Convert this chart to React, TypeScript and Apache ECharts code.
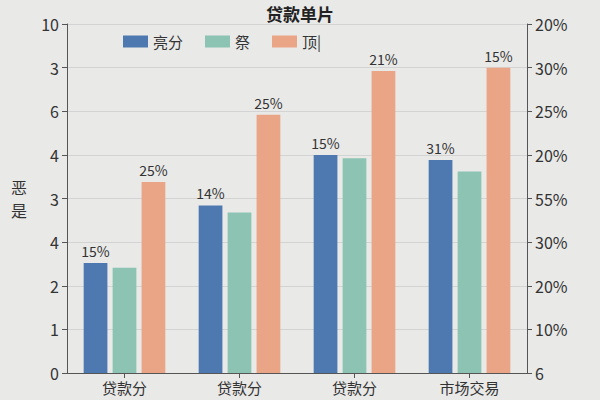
import { useEffect, useRef } from 'react'
import * as echarts from 'echarts'

const categories = ['贷款分', '贷款分', '贷款分', '市场交易']
const seriesNames = ['亮分', '祭', '顶|']
// bar heights measured in tick steps of the left axis
const blueValues = [2.52, 3.84, 5.0, 4.88]
const greenValues = [2.41, 3.68, 4.92, 4.62]
const orangeValues = [4.38, 5.92, 6.92, 7.0]
const blueLabels = ['15%', '14%', '15%', '31%']
const orangeLabels = ['25%', '25%', '21%', '15%']
const leftTicks = ['0', '1', '2', '4', '3', '4', '6', '3', '10']
const rightTicks = ['6', '10%', '20%', '30%', '55%', '20%', '25%', '30%', '20%']

const COLORS = ['#4e79b0', '#8cc3b3', '#eaa587']
const FONT = '"Noto Sans CJK SC", "Noto Sans", sans-serif'

export default function App() {
  const chartRef = useRef<HTMLDivElement>(null)

  useEffect(() => {
    if (!chartRef.current) return
    const chart = echarts.init(chartRef.current, null, { renderer: 'svg' })

    const labelFor = (labels: string[]) => ({
      show: true,
      position: 'top' as const,
      distance: 5,
      color: '#333',
      fontSize: 14,
      fontFamily: FONT,
      formatter: (p: { dataIndex: number }) => labels[p.dataIndex]
    })

    const valueAxis = (ticks: string[], pos: 'left' | 'right', showSplit: boolean) => ({
      type: 'value' as const,
      position: pos,
      min: 0,
      max: 8,
      interval: 1,
      axisLine: { show: true, lineStyle: { color: '#555', width: 1 } },
      axisTick: { show: true, length: 5, lineStyle: { color: '#555' } },
      axisLabel: {
        color: '#333',
        fontSize: 16,
        fontFamily: FONT,
        margin: 8,
        formatter: (v: number) => ticks[Math.round(v)] ?? ''
      },
      splitLine: { show: showSplit, lineStyle: { color: '#d3d3d3', width: 1 } }
    })

    chart.setOption({
      animation: false,
      backgroundColor: '#e9e9e8',
      color: COLORS,
      textStyle: { fontFamily: FONT },
      title: {
        text: '贷款单片',
        left: 'center',
        top: 4,
        padding: 0,
        textStyle: { fontSize: 17, lineHeight: 18, fontWeight: 'bold', color: '#222', fontFamily: FONT }
      },
      legend: {
        data: seriesNames,
        left: 118,
        top: 29,
        itemWidth: 25,
        itemHeight: 12,
        itemGap: 22,
        icon: 'rect',
        textStyle: { fontSize: 15, color: '#333', fontFamily: FONT }
      },
      grid: { left: 67, right: 73, top: 24, bottom: 27 },
      xAxis: {
        type: 'category',
        data: categories,
        axisLine: { lineStyle: { color: '#555' } },
        axisTick: { show: true, alignWithLabel: true, length: 5, lineStyle: { color: '#555' } },
        axisLabel: { color: '#333', fontSize: 15, fontFamily: FONT, margin: 7 }
      },
      yAxis: [
        {
          ...valueAxis(leftTicks, 'left', true),
          name: '恶\n是',
          nameLocation: 'middle',
          nameGap: 40,
          nameRotate: 0,
          nameTextStyle: { fontSize: 16, color: '#333', fontFamily: FONT, lineHeight: 23 }
        },
        valueAxis(rightTicks, 'right', false)
      ],
      series: [
        {
          name: seriesNames[0],
          type: 'bar',
          data: blueValues,
          barCategoryGap: '29%',
          barGap: '22%',
          label: labelFor(blueLabels)
        },
        {
          name: seriesNames[1],
          type: 'bar',
          data: greenValues,
          barGap: '22%'
        },
        {
          name: seriesNames[2],
          type: 'bar',
          data: orangeValues,
          barGap: '22%',
          label: labelFor(orangeLabels)
        }
      ]
    })

    return () => chart.dispose()
  }, [])

  return (
    <div
      ref={chartRef}
      style={{ position: 'fixed', left: 0, top: 0, width: 600, height: 400 }}
    />
  )
}
